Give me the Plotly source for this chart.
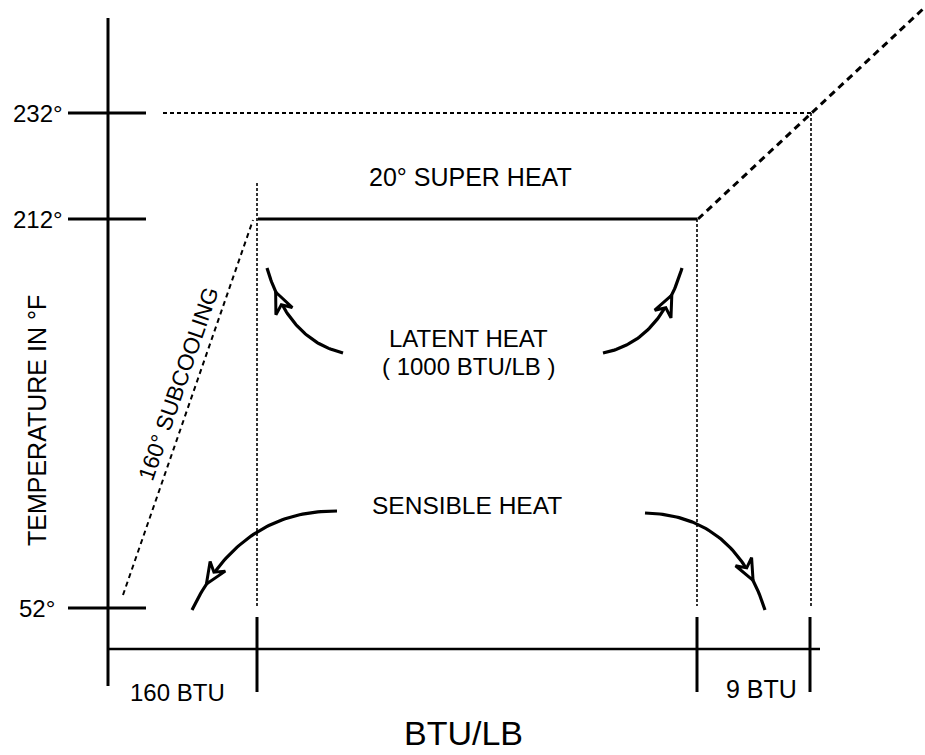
import numpy as np
import plotly.graph_objects as go

# ---------------- data ----------------
temps = [52, 212, 232]                       # temperature levels, °F
temp_labels = ["52°", "212°", "232°"]
btu_amounts = [160, 1000, 9]                 # heat per stage, BTU/LB
btu_tick_labels = ["160 BTU", "9 BTU"]
stage_names = ["SENSIBLE HEAT", "LATENT HEAT", "20° SUPER HEAT", "160° SUBCOOLING"]

# ---------------- schematic layout (not to scale) ----------------
W, H = 925, 755
TEMP_Y = {52: 608, 212: 219, 232: 113}       # schematic height of each temperature level
STAGE_X = [108, 257, 697, 810]               # axis, end sensible, end latent, end superheat
AXIS_Y = 649
FONT = "Liberation Sans, Arial, sans-serif"
BLACK = "#000"

fig = go.Figure()

def line(xs, ys, width=3, dash="solid"):
    fig.add_trace(go.Scatter(x=xs, y=ys, mode="lines", hoverinfo="skip",
                             line=dict(color=BLACK, width=width, dash=dash),
                             showlegend=False))

def text(x, y, s, size=22, angle=0, xanchor="center"):
    fig.add_annotation(x=x, y=y, text=s, showarrow=False, textangle=angle,
                       xanchor=xanchor, yanchor="middle", borderpad=0,
                       font=dict(family=FONT, size=size, color=BLACK))

y52, y212, y232 = (TEMP_Y[t] for t in temps)
x0, x1, x2, x3 = STAGE_X

# axes
line([x0, x0], [18, 686], width=3)
line([x0 - 1, 820], [AXIS_Y, AXIS_Y], width=2.5)

# temperature ticks + labels
for t, lab in zip(temps, temp_labels):
    ty = TEMP_Y[t]
    line([68, 146], [ty, ty], width=3)
    text(64 if t != 52 else 56, ty, lab, size=24, xanchor="right")

# BTU ticks on x axis
for xx in (x1, x2, x3):
    line([xx, xx], [617, 692], width=3)

# guide lines
line([163, x3 + 2], [y232, y232], width=2, dash="4px,3px")
line([x1, x1], [183, 606], width=1.6, dash="3px,2px")
line([x2, x2], [y212, 606], width=1.6, dash="3px,2px")
line([x3 + 1, x3 + 1], [y232, 606], width=1.6, dash="3px,2px")

# heating curve
line([x1 + 1, x2], [y212, y212], width=3)                       # latent (boiling) plateau
line([123, x1 - 4], [595, y212 + 1], width=2, dash="5px,4px")    # subcooling
line([x2 + 1, x3 + 2, 923], [y212, y232, 9], width=3, dash="7px,5px")  # superheat

# curved arrows
def bezier(p0, p1, p2, n=60):
    t = np.linspace(0, 1, n)[:, None]
    p0, p1, p2 = map(np.array, (p0, p1, p2))
    return (1 - t) ** 2 * p0 + 2 * t * (1 - t) * p1 + t ** 2 * p2

def curved_arrow(p0, p1, p2, t_head):
    pts = bezier(p0, p1, p2)
    line(pts[:, 0], pts[:, 1], width=3.2)
    p0, p1, p2 = map(np.array, (p0, p1, p2))
    tip = (1 - t_head) ** 2 * p0 + 2 * t_head * (1 - t_head) * p1 + t_head ** 2 * p2
    d = 2 * (1 - t_head) * (p1 - p0) + 2 * t_head * (p2 - p1)
    d = d / np.linalg.norm(d)
    n = np.array([-d[1], d[0]])
    base = tip - d * 21
    c1, c2 = base + n * 9, base - n * 9
    notch = tip - d * 14
    xs = [tip[0], c1[0], notch[0], c2[0], tip[0]]
    ys = [tip[1], c1[1], notch[1], c2[1], tip[1]]
    fig.add_trace(go.Scatter(x=xs, y=ys, mode="lines", fill="toself", fillcolor="white",
                             line=dict(color=BLACK, width=3), hoverinfo="skip",
                             showlegend=False))

curved_arrow((343, 353), (288, 340), (267, 268), 0.82)
curved_arrow((603, 353), (660, 342), (682, 268), 0.80)
curved_arrow((337, 511), (240, 510), (192, 610), 0.86)
curved_arrow((645, 513), (735, 515), (765, 610), 0.83)

# labels
text(470, 177, stage_names[2], size=25)
text(468, 338, stage_names[1], size=24)
text(468, 366, "( %d BTU/LB )" % btu_amounts[1], size=24)
text(467, 505, stage_names[0], size=24.5)
text(178, 384, stage_names[3], size=22.5, angle=-70.9)
text(37, 421, "TEMPERATURE IN °F", size=25, angle=-90)
text(177, 692, btu_tick_labels[0], size=24)
text(761, 689, btu_tick_labels[1], size=25)
text(463, 733, "BTU/LB", size=34)

fig.update_layout(
    width=W, height=H, margin=dict(l=0, r=0, t=0, b=0),
    paper_bgcolor="white", plot_bgcolor="white", showlegend=False,
    xaxis=dict(range=[0, W], visible=False, fixedrange=True),
    yaxis=dict(range=[H, 0], visible=False, fixedrange=True),
)

fig.write_html("out.html", config={"displayModeBar": False, "staticPlot": True},
               post_script="document.body.style.margin='0';document.body.style.overflow='hidden';")
